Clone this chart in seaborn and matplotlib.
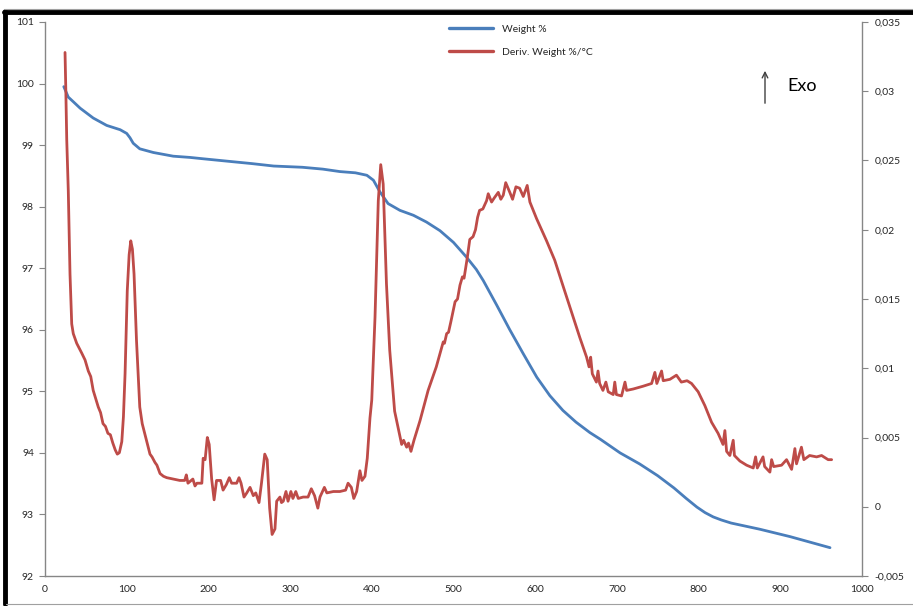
import matplotlib
matplotlib.use("Agg")
import matplotlib.pyplot as plt
from matplotlib.ticker import FuncFormatter, MultipleLocator
from matplotlib.lines import Line2D
from matplotlib.patches import FancyArrowPatch
import seaborn as sns
import pandas as pd

# Thermogravimetric curve: temperature (°C) vs remaining weight (%)
weight_temp = [23, 28.5, 35, 43, 59, 75.5, 92, 100, 104, 108, 116, 132.6, 157, 177.5,
               192, 230, 253, 280, 315, 340, 361, 380, 394, 402, 410, 420, 434.5, 451,
               467, 483.5, 500, 516, 528, 536.5, 553, 569, 585.5, 602, 618, 634, 650,
               667, 680, 704, 728, 750, 770, 785, 798, 808, 818, 828, 840, 875, 912, 961]
weight_pct = [99.95, 99.78, 99.70, 99.60, 99.44, 99.32, 99.25, 99.19, 99.12, 99.03,
              98.94, 98.88, 98.82, 98.80, 98.78, 98.73, 98.70, 98.66, 98.64, 98.61,
              98.57, 98.55, 98.51, 98.43, 98.24, 98.05, 97.94, 97.86, 97.75, 97.61,
              97.42, 97.18, 96.98, 96.80, 96.40, 96.00, 95.61, 95.23, 94.93, 94.69,
              94.50, 94.33, 94.22, 94.00, 93.82, 93.63, 93.43, 93.26, 93.12, 93.03,
              92.96, 92.91, 92.86, 92.76, 92.64, 92.46]

# Derivative curve: temperature (°C) vs d(weight)/dT (%/°C)
deriv_temp = [24.5, 25.5, 26.6, 28.5, 30.6, 32.7, 34.6, 38.8, 44.9, 49, 53, 56, 59, 65.2,
              68, 71, 74, 77, 80, 83, 86, 88.5, 91, 94, 96, 98, 100.7, 103, 105, 107,
              109, 112, 116, 119, 122, 125, 128.5, 131, 134.6, 137, 140.8, 145, 149,
              157, 165, 171, 173, 175, 181, 183.6, 186, 192, 193.6, 196, 198.7, 201,
              204, 207, 210, 215, 218, 222, 225.6, 228.5, 234.6, 237.5, 240, 243.6,
              247, 251, 255, 258, 262, 265, 269, 272, 275, 278, 281.5, 283.6, 287.6,
              289.5, 291.7, 295, 297.5, 301, 303.5, 307, 310, 316, 322, 326, 330, 334,
              336.6, 342, 345, 353, 361, 368, 371, 375, 378, 381.5, 385.5, 388, 391.7,
              394.5, 397.8, 400, 404, 408, 411, 414, 418, 422, 428, 433.7, 436.6, 439,
              442.7, 445, 448, 451.7, 459, 469, 479, 487.5, 489, 491.7, 494, 497, 502,
              505, 508, 511, 513, 517, 520, 524, 527, 529.6, 532, 536, 540.6, 542.6,
              546.7, 550, 554.9, 558, 561, 564, 569, 572.4, 576.5, 581, 585.5, 590.3,
              593.6, 601.8, 614, 624, 634.4, 646.6, 654.8, 663, 666, 668, 670, 675,
              677, 679, 683, 686.6, 689.5, 695.6, 697.5, 699.5, 705.8, 710, 712, 720,
              732, 742.6, 746.6, 749, 754.8, 756.8, 765, 773, 779, 786, 791.5, 799.6,
              807.8, 816, 824, 830, 832.3, 834.4, 838.4, 842.5, 844, 850.7, 858.9,
              867, 869.9, 872, 879, 881, 887.4, 889.5, 892, 901.7, 907.8, 914, 918,
              920, 926, 929, 936, 944.6, 950.7, 958.7, 963]
deriv_val = [0.0328, 0.0300, 0.0265, 0.0228, 0.0168, 0.0132, 0.0125, 0.0118, 0.0111,
             0.0106, 0.0098, 0.0094, 0.0084, 0.0072, 0.0068, 0.0060, 0.0058, 0.0053,
             0.0052, 0.0046, 0.0041, 0.0038, 0.0039, 0.0047, 0.0065, 0.0096, 0.0156,
             0.0182, 0.0192, 0.0186, 0.0168, 0.0120, 0.0072, 0.0060, 0.0053, 0.0046,
             0.0038, 0.0036, 0.0032, 0.0030, 0.0024, 0.0022, 0.0021, 0.0020, 0.0019,
             0.0019, 0.0023, 0.0017, 0.0020, 0.0015, 0.0017, 0.0017, 0.0035, 0.0034,
             0.0050, 0.0045, 0.0020, 0.0005, 0.0019, 0.0019, 0.0012, 0.0016, 0.0021,
             0.0017, 0.0017, 0.0021, 0.0017, 0.0007, 0.0010, 0.0014, 0.0008, 0.0010,
             0.0003, 0.0017, 0.0038, 0.0034, -0.0001, -0.0020, -0.0016, 0.0004,
             0.0007, 0.0003, 0.0004, 0.0011, 0.0004, 0.0011, 0.0006, 0.0011, 0.0006,
             0.0007, 0.0007, 0.0013, 0.0008, -0.0001, 0.0007, 0.0014, 0.0010, 0.0011,
             0.0011, 0.0012, 0.0017, 0.0014, 0.0006, 0.0011, 0.0026, 0.0019, 0.0022,
             0.0035, 0.0064, 0.0077, 0.0137, 0.0221, 0.0247, 0.0233, 0.0161, 0.0113,
             0.0069, 0.0053, 0.0045, 0.0048, 0.0043, 0.0046, 0.0040, 0.0048, 0.0062,
             0.0084, 0.0101, 0.0119, 0.0118, 0.0125, 0.0126, 0.0134, 0.0148, 0.0150,
             0.0160, 0.0166, 0.0165, 0.0180, 0.0193, 0.0195, 0.0200, 0.0209, 0.0214,
             0.0215, 0.0221, 0.0226, 0.0220, 0.0223, 0.0227, 0.0222, 0.0225, 0.0234,
             0.0227, 0.0222, 0.0231, 0.0230, 0.0224, 0.0232, 0.0220, 0.0208, 0.0192,
             0.0178, 0.0159, 0.0137, 0.0122, 0.0108, 0.0101, 0.0108, 0.0096, 0.0090,
             0.0098, 0.0089, 0.0084, 0.0090, 0.0083, 0.0081, 0.0090, 0.0081, 0.0080,
             0.0090, 0.0084, 0.0085, 0.0087, 0.0089, 0.0097, 0.0089, 0.0098, 0.0091,
             0.0092, 0.0095, 0.0090, 0.0091, 0.0089, 0.0083, 0.0073, 0.0061, 0.0053,
             0.0045, 0.0055, 0.0040, 0.0037, 0.0048, 0.0037, 0.0033, 0.0030, 0.0028,
             0.0036, 0.0028, 0.0036, 0.0029, 0.0025, 0.0034, 0.0029, 0.0030, 0.0034,
             0.0027, 0.0042, 0.0031, 0.0043, 0.0034, 0.0037, 0.0036, 0.0037, 0.0034,
             0.0034]

weight_label = "Weight %"
deriv_label = "Deriv. Weight %/°C"

BLUE = "#4A7EBB"
RED = "#BE4B48"
AXIS_GREY = "#868686"
TEXT = "#262626"

sns.set_style("white")
plt.rcParams["font.family"] = ["Lato", "DejaVu Sans"]

fig = plt.figure(figsize=(9.13, 6.06), dpi=100)
ax = fig.add_axes([0.0493, 0.0495, 0.8947, 0.9142])
ax2 = ax.twinx()

wdf = pd.DataFrame({"T": weight_temp, "W": weight_pct})
ddf = pd.DataFrame({"T": deriv_temp, "D": deriv_val})
sns.lineplot(data=wdf, x="T", y="W", ax=ax, color=BLUE, linewidth=2.0,
             sort=False, estimator=None, legend=False, zorder=3)
sns.lineplot(data=ddf, x="T", y="D", ax=ax2, color=RED, linewidth=2.0,
             sort=False, estimator=None, legend=False, zorder=2)

ax.set_xlim(0, 1000)
ax.set_ylim(92, 101)
ax2.set_ylim(-0.005, 0.035)
ax.set_xlabel("")
ax.set_ylabel("")
ax2.set_ylabel("")

comma = FuncFormatter(lambda v, p: (f"{v:.3f}".rstrip("0").rstrip(".")).replace(".", ",")
                      if abs(v) > 1e-12 else "0")
ax.xaxis.set_major_locator(MultipleLocator(100))
ax.xaxis.set_minor_locator(MultipleLocator(50))
ax.yaxis.set_major_locator(MultipleLocator(1))
ax2.yaxis.set_major_locator(MultipleLocator(0.005))
ax2.yaxis.set_major_formatter(comma)

for a in (ax, ax2):
    a.spines["top"].set_visible(False)
    for side in ("left", "right", "bottom"):
        a.spines[side].set_color(AXIS_GREY)
        a.spines[side].set_linewidth(1.0)
ax.spines["right"].set_visible(False)
ax2.spines["left"].set_visible(False)
ax2.spines["bottom"].set_visible(False)

ax.tick_params(axis="x", which="major", direction="inout", length=7, width=0.8,
               color=AXIS_GREY, labelsize=7.5, labelcolor=TEXT, pad=3)
ax.tick_params(axis="x", which="minor", direction="out", length=3, width=0.8,
               color=AXIS_GREY)
ax.tick_params(axis="y", which="major", direction="out", length=4, width=0.8,
               color=AXIS_GREY, labelsize=7.5, labelcolor=TEXT, pad=4, left=True)
ax2.tick_params(axis="y", which="major", direction="out", length=4, width=0.8,
                color=AXIS_GREY, labelsize=7.5, labelcolor=TEXT, pad=5, right=True)
ax.grid(False)
ax2.grid(False)

handles = [Line2D([], [], color=BLUE, linewidth=2.4),
           Line2D([], [], color=RED, linewidth=2.4)]
ax.legend(handles, [weight_label, deriv_label], loc="upper left",
          bbox_to_anchor=(0.483, 1.012), frameon=False, fontsize=7.5,
          handlelength=4.2, handletextpad=0.9, labelspacing=1.3,
          labelcolor=TEXT)

# "Exo" direction marker
fig.patches.append(FancyArrowPatch((765 / 913, 1 - 106 / 606), (765 / 913, 1 - 68 / 606),
                                   transform=fig.transFigure, arrowstyle="->",
                                   mutation_scale=10, color="#404040", linewidth=1.0))
fig.text(787 / 913, 1 - 86 / 606, "Exo", fontsize=13, color="black", va="center",
         ha="left")

# Frame around the chart area
fig.add_artist(Line2D([5 / 913, 5 / 913], [1 - 11 / 606, 2 / 606], transform=fig.transFigure,
                      color="black", linewidth=3.5))
fig.add_artist(Line2D([4 / 913, 1.0], [1 - 11.5 / 606, 1 - 11.5 / 606],
                      transform=fig.transFigure, color="black", linewidth=3.5))
fig.add_artist(Line2D([4 / 913, 1.0], [1 - 8.5 / 606, 1 - 8.5 / 606],
                      transform=fig.transFigure, color="#A0A0A0", linewidth=0.8))
fig.add_artist(Line2D([6 / 913, 1.0], [2.5 / 606, 2.5 / 606],
                      transform=fig.transFigure, color="#A0A0A0", linewidth=0.8))

fig.savefig("out.png", dpi=100)
